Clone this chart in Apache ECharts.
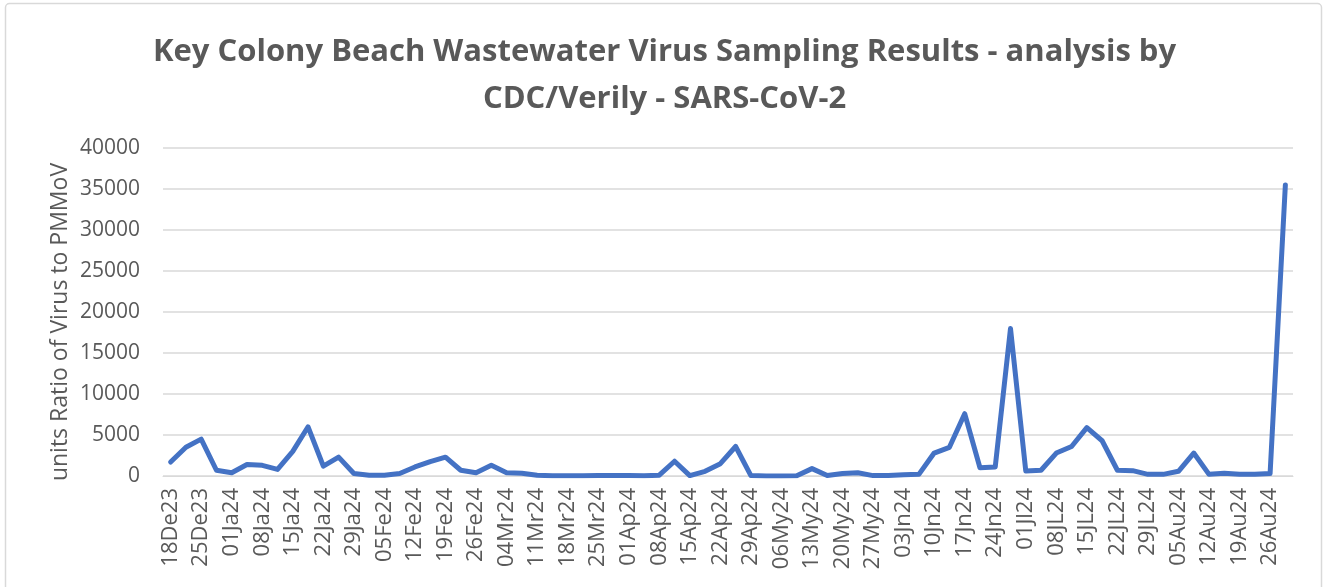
<!DOCTYPE html>
<html>
<head>
<meta charset="utf-8">
<script src="https://cdn.jsdelivr.net/npm/echarts@6/dist/echarts.min.js"></script>
<style>
html,body{margin:0;padding:0;background:#fff;}
#chart{width:1329px;height:587px;}
</style>
</head>
<body>
<div id="chart"></div>
<script>
const categories = [
  "18De23","21De23","25De23","28De23","01Ja24","04Ja24","08Ja24","11Ja24","15Ja24","18Ja24",
  "22Ja24","25Ja24","29Ja24","01Fe24","05Fe24","08Fe24","12Fe24","15Fe24","19Fe24","22Fe24",
  "26Fe24","29Fe24","04Mr24","07Mr24","11Mr24","14Mr24","18Mr24","21Mr24","25Mr24","28Mr24",
  "01Ap24","04Ap24","08Ap24","11Ap24","15Ap24","18Ap24","22Ap24","25Ap24","29Ap24","02My24",
  "06My24","09My24","13My24","16My24","20My24","23My24","27My24","30My24","03Jn24","06Jn24",
  "10Jn24","13Jn24","17Jn24","20Jn24","24Jn24","27Jn24","01Jl24","04Jl24","08JL24","11JL24",
  "15JL24","18JL24","22JL24","25JL24","29JL24","01Au24","05Au24","08Au24","12Au24","15Au24",
  "19Au24","22Au24","26Au24","29Au24"
];
const values = [
  1700,3500,4500,700,400,1400,1300,800,3000,6000,
  1200,2300,300,100,100,300,1100,1750,2300,700,
  400,1300,400,330,80,20,20,30,50,50,
  50,30,100,1800,50,570,1500,3600,50,0,
  0,30,900,50,300,400,50,50,150,200,
  2800,3500,7600,1000,1100,18000,600,700,2800,3600,
  5900,4300,700,650,200,200,570,2800,200,330,
  200,200,300,35500
];
const yTicks = { min: 0, max: 40000, interval: 5000 };
const titleText = "Key Colony Beach Wastewater Virus Sampling Results - analysis by\nCDC/Verily - SARS-CoV-2";
const yName = "units Ratio of Virus to PMMoV";

const chart = echarts.init(document.getElementById('chart'));
const txt = '#595959';
chart.setOption({
  animation: false,
  backgroundColor: '#fff',
  graphic: [{
    type: 'rect', shape: { x: 5.5, y: 3.5, width: 1316, height: 620, r: 4 },
    style: { fill: 'none', stroke: '#d9d9d9', lineWidth: 1.5 }, z: -1
  }, {
    type: 'text', x: 60, y: 322, rotation: Math.PI / 2,
    style: { text: yName, fill: txt, font: '23px "Open Sans"', align: 'center', verticalAlign: 'middle' }
  }],
  title: {
    text: titleText, left: 'center', top: 24,
    textStyle: { fontFamily: 'Open Sans', fontWeight: 'bold', fontSize: 31, color: txt, lineHeight: 47 }
  },
  grid: { left: 163, right: 36, top: 148, bottom: 111, containLabel: false },
  xAxis: {
    type: 'category', data: categories, boundaryGap: true,
    axisLine: { lineStyle: { color: '#d9d9d9', width: 1 } },
    axisTick: { show: false },
    axisLabel: { interval: 1, rotate: 90, color: txt, fontFamily: 'Open Sans', fontSize: 22, margin: 12 },
    splitLine: { show: false }
  },
  yAxis: {
    type: 'value', min: yTicks.min, max: yTicks.max, interval: yTicks.interval,
    axisLine: { show: false }, axisTick: { show: false },
    axisLabel: { color: txt, fontFamily: 'Open Sans', fontSize: 21, margin: 23, formatter: v => String(v) },
    splitLine: { lineStyle: { color: '#d9d9d9', width: 1.5 } }
  },
  series: [{
    type: 'line', data: values, showSymbol: false, symbol: 'none',
    lineStyle: { color: '#4472C4', width: 5, join: 'round', cap: 'round' },
    itemStyle: { color: '#4472C4' }
  }]
});
</script>
</body>
</html>
